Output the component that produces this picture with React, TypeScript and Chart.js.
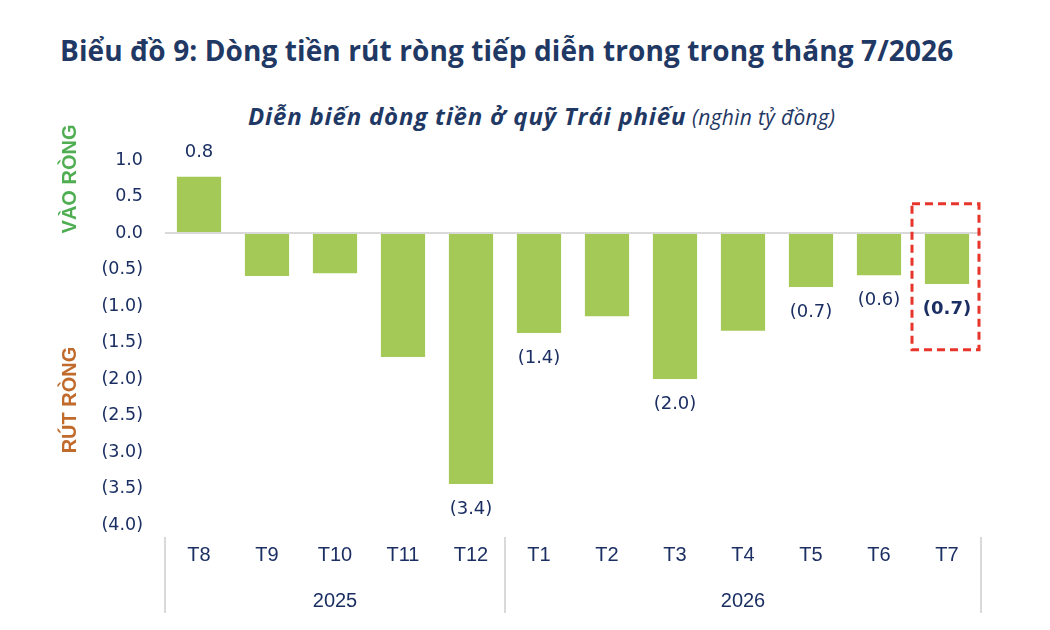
import React, { useEffect, useRef } from "react";
import { Chart, registerables } from "chart.js";

Chart.register(...registerables);

const months = ["T8", "T9", "T10", "T11", "T12", "T1", "T2", "T3", "T4", "T5", "T6", "T7"];
const flows = [0.77, -0.59, -0.55, -1.7, -3.44, -1.37, -1.14, -2.0, -1.34, -0.74, -0.58, -0.7];
const valueLabels = ["0.8", "", "", "", "(3.4)", "(1.4)", "", "(2.0)", "", "(0.7)", "(0.6)", "(0.7)"];
const boldLabel = [false, false, false, false, false, false, false, false, false, false, false, true];
const years = ["2025", "2026"];
const yearSpans = [[0, 4], [5, 11]];
const highlightIndex = 11;
const highlightRange = [0.4, -1.6];

const NAVY = "#1b2f63";
const GREY = "#d9d9d9";

const extrasPlugin = {
  id: "extras",
  afterDraw(chart: any) {
    const ctx = chart.ctx;
    const x = chart.scales.x;
    const y = chart.scales.y;
    const area = chart.chartArea;
    const meta = chart.getDatasetMeta(0);
    const half = (x.getPixelForValue(1) - x.getPixelForValue(0)) / 2;

    ctx.save();
    // value labels
    ctx.textAlign = "center";
    ctx.textBaseline = "middle";
    ctx.fillStyle = NAVY;
    meta.data.forEach((bar: any, i: number) => {
      const txt = valueLabels[i];
      if (!txt) return;
      ctx.font = (boldLabel[i] ? "bold " : "") + "18px 'DejaVu Sans'";
      const v = flows[i];
      const ly = v >= 0 ? bar.y - 24 : bar.y + 25;
      ctx.fillText(txt, bar.x, ly);
    });

    // dividers and years
    ctx.strokeStyle = GREY;
    ctx.lineWidth = 2;
    const divs: number[] = [];
    yearSpans.forEach((s, k) => {
      const l = x.getPixelForValue(s[0]) - half;
      const r = x.getPixelForValue(s[1]) + half;
      if (k === 0) divs.push(l);
      divs.push(r);
      ctx.font = "20px 'Liberation Sans'";
      ctx.fillStyle = NAVY;
      ctx.fillText(years[k], (l + r) / 2, area.bottom + 76);
    });
    divs.forEach((d) => {
      ctx.beginPath();
      ctx.moveTo(d, area.bottom + 12);
      ctx.lineTo(d, area.bottom + 88);
      ctx.stroke();
    });

    // highlight box
    const cx = x.getPixelForValue(highlightIndex);
    ctx.strokeStyle = "#e8352b";
    ctx.lineWidth = 3;
    ctx.setLineDash([8, 5]);
    const top = y.getPixelForValue(highlightRange[0]);
    const bot = y.getPixelForValue(highlightRange[1]);
    ctx.strokeRect(cx - half - 1, top, 2 * half - 1, bot - top);
    ctx.setLineDash([]);

    // side labels
    ctx.font = "bold 20px 'Liberation Sans'";
    ctx.textAlign = "center";
    ctx.textBaseline = "middle";
    ctx.save();
    ctx.translate(70, 179);
    ctx.rotate(-Math.PI / 2);
    ctx.fillStyle = "#4fae51";
    ctx.fillText("VÀO RÒNG", 0, 0, 113);
    ctx.restore();
    ctx.save();
    ctx.translate(70, 400);
    ctx.rotate(-Math.PI / 2);
    ctx.fillStyle = "#c06a2b";
    ctx.fillText("RÚT RÒNG", 0, 0, 111);
    ctx.restore();

    ctx.restore();
  },
};

export default function App() {
  const ref = useRef<HTMLCanvasElement>(null);
  useEffect(() => {
    if (!ref.current) return;
    const chart = new Chart(ref.current, {
      type: "bar",
      data: {
        labels: months,
        datasets: [
          {
            data: flows,
            backgroundColor: "#a5c957",
            categoryPercentage: 1,
            barPercentage: 0.65,
          },
        ],
      },
      options: {
        animation: false,
        responsive: false,
        devicePixelRatio: 1,
        layout: { padding: { top: 160, right: 69, left: 0, bottom: 0 } },
        plugins: { legend: { display: false }, tooltip: { enabled: false }, title: { display: false } },
        scales: {
          x: {
            grid: { display: false, drawTicks: false },
            border: { display: false },
            ticks: { color: NAVY, font: { family: "'Liberation Sans'", size: 20 }, padding: 18 },
            afterFit: (s: any) => {
              s.height = 105;
            },
          },
          y: {
            min: -4,
            max: 1,
            border: { display: false },
            grid: {
              drawTicks: false,
              lineWidth: 2,
              color: (c: any) => (c.tick && c.tick.value === 0 ? GREY : "rgba(0,0,0,0)"),
            },
            ticks: {
              stepSize: 0.5,
              color: NAVY,
              padding: 22,
              font: { family: "'DejaVu Sans'", size: 17.5 },
              callback: (v: any) => (v < 0 ? "(" + Math.abs(v).toFixed(1) + ")" : Number(v).toFixed(1)),
            },
            afterFit: (s: any) => {
              s.width = 165;
            },
          },
        },
      },
      plugins: [extrasPlugin],
    });
    return () => chart.destroy();
  }, []);

  return (
    <div style={{ position: "absolute", left: 0, top: 0, width: 1050, height: 630, background: "#fff" }}>
      <div
        style={{
          position: "absolute",
          left: 60,
          top: 33,
          lineHeight: "34px",
          fontFamily: "'Open Sans', sans-serif",
          fontWeight: 700,
          fontSize: 28,
          letterSpacing: 0.1,
          color: "#1f3864",
          whiteSpace: "nowrap",
        }}
      >
        Biểu đồ 9: Dòng tiền rút ròng tiếp diễn trong trong tháng 7/2026
      </div>
      <div
        style={{
          position: "absolute",
          left: 248,
          top: 101,
          lineHeight: "30px",
          fontFamily: "'Open Sans', sans-serif",
          fontStyle: "italic",
          color: "#1f3864",
          whiteSpace: "nowrap",
        }}
      >
        <span style={{ fontWeight: 700, fontSize: 24, letterSpacing: 0.8 }}>Diễn biến dòng tiền ở quỹ Trái phiếu</span>
        <span style={{ fontSize: 21, letterSpacing: 0.3 }}> (nghìn tỷ đồng)</span>
      </div>
      <canvas ref={ref} width={1050} height={630} style={{ position: "absolute", left: 0, top: 0 }} />
    </div>
  );
}
